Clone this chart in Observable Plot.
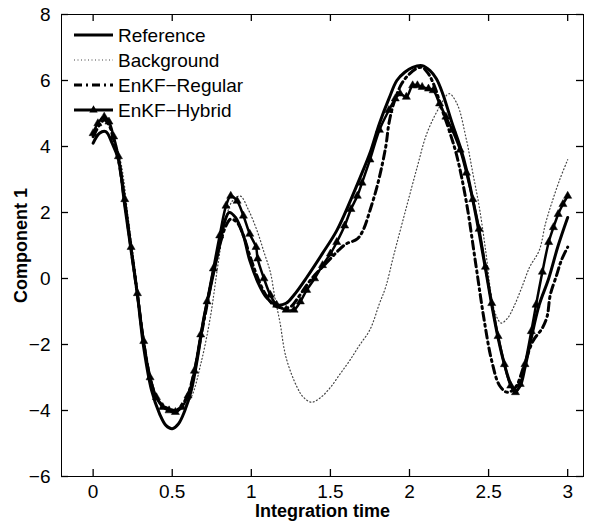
<!DOCTYPE html>
<html><head><meta charset="utf-8">
<script src="https://cdn.jsdelivr.net/npm/d3@7"></script>
<script src="https://cdn.jsdelivr.net/npm/@observablehq/plot@0.6"></script>
<style>
body{margin:0;background:#fff;}
#wrap{position:relative;width:593px;height:525px;}
#legend{position:absolute;left:0;top:0;pointer-events:none}
g[aria-label="x-axis label"] text, g[aria-label="y-axis label"] text {font-weight:bold;font-size:18px}
</style></head><body><div id="wrap"></div>
<script>
const xTicks = [0, 0.5, 1, 1.5, 2, 2.5, 3];
const yTicks = [-6, -4, -2, 0, 2, 4, 6, 8];
const seriesNames = ["Reference", "Background", "EnKF\u2212Regular", "EnKF\u2212Hybrid"];

const refT = [0,0.04,0.08,0.12,0.16,0.2,0.24,0.28,0.32,0.37,0.42,0.46,0.5,0.54,0.58,0.62,0.66,0.7,0.74,0.79,0.83,0.86,0.9,0.95,0.99,1.05,1.1,1.16,1.22,1.27,1.35,1.45,1.54,1.63,1.7,1.75,1.81,1.87,1.92,1.97,2.02,2.08,2.13,2.17,2.21,2.27,2.32,2.36,2.42,2.48,2.52,2.56,2.6,2.64,2.67,2.7,2.73,2.77,2.82,2.88,2.94,3.0];
const refV = [4.1,4.4,4.45,4.1,3.6,2.2,0.85,-0.5,-2.1,-3.4,-4.1,-4.45,-4.55,-4.4,-4.0,-3.4,-2.4,-1.2,-0.3,0.8,1.7,2.0,1.85,1.3,0.55,-0.2,-0.6,-0.8,-0.75,-0.5,0.03,0.76,1.45,2.4,3.2,3.8,4.7,5.45,6.0,6.25,6.4,6.45,6.3,6.05,5.6,4.7,4.0,3.3,1.9,0.3,-0.8,-1.8,-2.6,-3.2,-3.4,-3.25,-2.7,-1.8,-0.8,0.0,1.0,1.85];

const bgT = [0,0.04,0.07,0.1,0.13,0.18,0.22,0.27,0.32,0.37,0.42,0.47,0.52,0.57,0.62,0.68,0.74,0.79,0.83,0.88,0.93,0.98,1.04,1.08,1.12,1.15,1.18,1.22,1.29,1.33,1.38,1.44,1.5,1.56,1.62,1.68,1.75,1.81,1.85,1.9,1.98,2.05,2.11,2.19,2.25,2.3,2.36,2.4,2.44,2.48,2.52,2.55,2.58,2.62,2.66,2.71,2.76,2.82,2.86,2.9,2.95,3.0];
const bgV = [4.4,4.75,4.85,4.7,4.3,3.4,1.9,0.1,-1.8,-3.1,-3.75,-4.0,-4.05,-3.9,-3.6,-2.6,-1.2,0.45,1.6,2.35,2.5,2.1,1.4,0.8,0.2,-0.6,-1.3,-2.4,-3.3,-3.6,-3.75,-3.6,-3.3,-2.9,-2.5,-2.05,-1.55,-0.76,-0.25,0.7,2.15,3.4,4.4,5.2,5.6,5.3,4.2,3.2,2.2,0.9,-0.6,-1.15,-1.35,-1.2,-0.85,-0.27,0.35,0.85,1.67,2.3,3.0,3.6];

const regT = [0,0.04,0.07,0.1,0.13,0.16,0.2,0.24,0.28,0.32,0.36,0.4,0.44,0.48,0.52,0.56,0.6,0.64,0.68,0.72,0.76,0.8,0.84,0.87,0.91,0.95,0.99,1.03,1.08,1.14,1.2,1.25,1.3,1.35,1.4,1.45,1.5,1.55,1.6,1.67,1.71,1.75,1.8,1.85,1.87,1.9,1.95,2.0,2.04,2.08,2.12,2.16,2.2,2.25,2.3,2.36,2.42,2.47,2.52,2.57,2.62,2.67,2.72,2.78,2.84,2.87,2.89,2.93,2.96,3.0];
const regV = [4.3,4.65,4.8,4.65,4.2,3.6,2.3,0.9,-0.5,-1.95,-3.0,-3.6,-3.85,-3.95,-4.0,-3.85,-3.5,-2.8,-1.8,-0.8,0.2,1.0,1.6,1.8,1.7,1.3,0.7,0.15,-0.4,-0.8,-0.9,-0.85,-0.55,-0.2,0.1,0.35,0.6,0.85,1.05,1.2,1.5,2.06,2.88,4.0,4.7,5.3,5.9,6.2,6.35,6.4,6.2,5.8,5.2,4.5,3.7,2.3,0.4,-1.2,-2.5,-3.25,-3.45,-3.3,-2.7,-1.9,-1.5,-1.15,-0.5,0.1,0.55,0.95];

const hybT = [0,0.03,0.07,0.1,0.13,0.16,0.2,0.24,0.28,0.32,0.36,0.4,0.44,0.48,0.52,0.56,0.6,0.64,0.68,0.72,0.76,0.8,0.84,0.87,0.91,0.95,0.99,1.03,1.04,1.08,1.12,1.16,1.22,1.27,1.31,1.35,1.4,1.45,1.5,1.54,1.59,1.63,1.67,1.7,1.75,1.81,1.87,1.91,1.94,1.98,2.02,2.05,2.08,2.12,2.15,2.19,2.23,2.27,2.32,2.36,2.4,2.44,2.48,2.52,2.56,2.6,2.64,2.67,2.7,2.73,2.77,2.8,2.84,2.88,2.91,2.94,2.97,3.0];
const hybV = [4.4,4.7,4.9,4.75,4.3,3.7,2.4,0.95,-0.45,-1.9,-3.0,-3.6,-3.9,-4.0,-4.05,-3.9,-3.55,-2.8,-1.7,-0.7,0.3,1.3,2.2,2.5,2.35,1.9,1.35,0.95,0.6,0.0,-0.5,-0.8,-0.95,-0.95,-0.7,-0.35,0.0,0.4,0.75,1.1,1.6,2.1,2.5,2.9,3.6,4.5,5.1,5.45,5.6,5.5,5.85,5.85,5.8,5.75,5.7,5.3,4.9,4.5,3.9,3.2,2.4,1.5,0.35,-0.75,-1.75,-2.6,-3.25,-3.45,-3.2,-2.6,-1.6,-0.8,0.2,1.1,1.55,1.95,2.25,2.5];

const rows = (name, T, V) => T.map((t, i) => ({series: name, t, v: V[i]}));
const refRows = rows(seriesNames[0], refT, refV);
const bgRows = rows(seriesNames[1], bgT, bgV);
const regRows = rows(seriesNames[2], regT, regV);
const hybRows = rows(seriesNames[3], hybT, hybV);

const fmt = d => (d < 0 ? "\u2212" + (-d) : String(d));
const font = "'Liberation Sans', Arial, Helvetica, sans-serif";

const W = 593, H = 525, mL = 61, mR = 10, mT = 14, mB = 49, TICK = 7;
const innerW = W - mL - mR, innerH = H - mT - mB;
const tickStyle = {stroke: "black", strokeWidth: 1.3};

const chart = Plot.plot({
  width: W, height: H,
  marginLeft: mL, marginRight: mR, marginTop: mT, marginBottom: mB,
  style: {fontFamily: font, fontSize: "19px", background: "white", color: "black", overflow: "visible"},
  x: {domain: [-0.2, 3.1]},
  y: {domain: [-6, 8]},
  marks: [
    Plot.line(bgRows, {x: "t", y: "v", stroke: "#444", strokeWidth: 1.2, strokeDasharray: "1,2.5", curve: "catmull-rom"}),
    Plot.line(regRows, {x: "t", y: "v", stroke: "black", strokeWidth: 3, strokeDasharray: "8,4,2,4", curve: "catmull-rom"}),
    Plot.line(refRows, {x: "t", y: "v", stroke: "black", strokeWidth: 3, strokeLinecap: "round", curve: "catmull-rom"}),
    Plot.line(hybRows, {x: "t", y: "v", stroke: "black", strokeWidth: 2.5, curve: "catmull-rom"}),
    Plot.dot(hybRows, {x: "t", y: "v", symbol: "triangle", r: 3, fill: "black", stroke: "black", strokeWidth: 0.5}),
    Plot.frame({stroke: "black", strokeWidth: 1}),
    // inward tick marks on all four sides (frame-spanning rules inset to short stubs)
    Plot.ruleX(xTicks, {x: d => d, insetTop: innerH - TICK, ...tickStyle}),
    Plot.ruleX(xTicks, {x: d => d, insetBottom: innerH - TICK, ...tickStyle}),
    Plot.ruleY(yTicks, {y: d => d, insetRight: innerW - TICK, ...tickStyle}),
    Plot.ruleY(yTicks, {y: d => d, insetLeft: innerW - TICK, ...tickStyle}),
    // tick labels and axis titles
    Plot.axisX(xTicks, {anchor: "bottom", tickSize: 0, tickPadding: 8, tickFormat: fmt, label: "Integration time", labelAnchor: "center", labelArrow: false, labelOffset: 40}),
    Plot.axisY(yTicks, {anchor: "left", tickSize: 0, tickPadding: 11, tickFormat: fmt, label: "Component 1", labelAnchor: "center", labelArrow: false, labelOffset: 47})
  ]
});
const wrap = document.getElementById("wrap");
wrap.appendChild(chart);

// legend (inside plot area, MATLAB style, no box)
const legendRows = [35, 60, 85, 110];
const styles = [
  {w: 3, dash: null, tri: false, color: "black"},
  {w: 1.2, dash: "1,2.5", tri: false, color: "#444"},
  {w: 3, dash: "8,4,2,4", tri: false, color: "black"},
  {w: 3, dash: null, tri: true, color: "black"}
];
const lg = d3.create("svg").attr("id", "legend").attr("width", W).attr("height", H);
seriesNames.forEach((name, i) => {
  const y = legendRows[i], s = styles[i];
  lg.append("line").attr("x1", 74).attr("x2", 113).attr("y1", y).attr("y2", y)
    .attr("stroke", s.color).attr("stroke-width", s.w).attr("stroke-dasharray", s.dash);
  if (s.tri) lg.append("path").attr("d", d3.symbol(d3.symbolTriangle, 30)()).attr("transform", `translate(93.5,${y})`).attr("fill", "black");
  lg.append("text").attr("x", 118).attr("y", y).attr("dy", "0.35em")
    .attr("font-family", font).attr("font-size", 19).text(name);
});
wrap.appendChild(lg.node());
</script></body></html>
